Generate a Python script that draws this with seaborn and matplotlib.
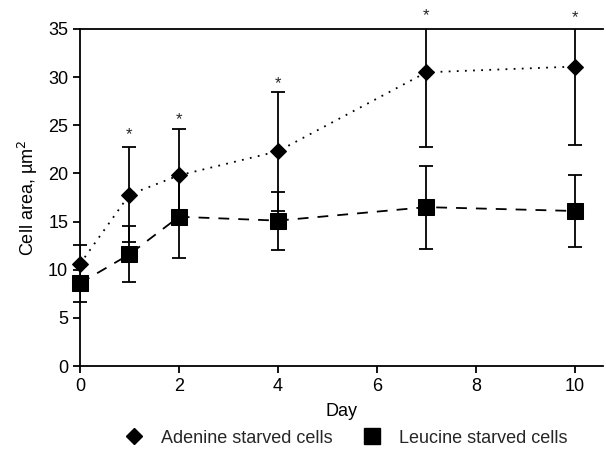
import numpy as np
import pandas as pd
import matplotlib
matplotlib.use("Agg")
import matplotlib.pyplot as plt
from matplotlib.lines import Line2D
import seaborn as sns

days = [0, 1, 2, 4, 7, 10]
adenine_mean = [10.6, 17.8, 19.8, 22.3, 30.5, 31.1]
adenine_err = [2.0, 4.9, 4.8, 6.2, 7.8, 8.1]
leucine_mean = [8.6, 11.6, 15.5, 15.1, 16.5, 16.1]
leucine_err = [2.0, 2.9, 4.3, 3.0, 4.3, 3.7]
star_days = [1, 2, 4, 7, 10]
star_y = [24.0, 25.6, 29.3, 36.4, 36.2]

sns.set_theme(style="ticks")
plt.rcParams["font.family"] = ["Liberation Sans", "DejaVu Sans"]

df = pd.DataFrame({
    "Day": days * 2,
    "Area": adenine_mean + leucine_mean,
    "Group": ["Adenine starved cells"] * len(days) + ["Leucine starved cells"] * len(days),
})

fig = plt.figure(figsize=(6.06, 4.53), dpi=100)
ax = fig.add_axes([0.132, 0.192, 0.863, 0.744])

# error bars first so markers sit on top
for m, e in [(adenine_mean, adenine_err), (leucine_mean, leucine_err)]:
    eb = ax.errorbar(days, m, yerr=e, fmt="none", ecolor="black",
                     elinewidth=1.3, capsize=5, capthick=1.3, zorder=2)
    for c in eb.lines[1]:
        c.set_clip_on(False)

sns.lineplot(data=df[df.Group == "Adenine starved cells"], x="Day", y="Area", ax=ax,
             color="black", marker="D", markersize=8, linewidth=1.3,
             linestyle=(0, (1, 3.5)), markeredgecolor="black", zorder=3, clip_on=False)
sns.lineplot(data=df[df.Group == "Leucine starved cells"], x="Day", y="Area", ax=ax,
             color="black", marker="s", markersize=12, linewidth=1.3,
             linestyle=(0, (6, 5)), markeredgecolor="black", zorder=3, clip_on=False)

for d, y in zip(star_days, star_y):
    ax.text(d, y, "*", ha="center", va="center", fontsize=12, clip_on=False)

ax.set_xlim(0, 10.57)
ax.set_ylim(0, 35)
ax.set_xticks([0, 2, 4, 6, 8, 10])
ax.set_yticks(np.arange(0, 36, 5))
ax.tick_params(axis="both", labelsize=13, length=5, width=1.3, color="black",
               labelcolor="black")
ax.set_xlabel("Day", fontsize=13, color="black", labelpad=6)
ax.set_ylabel("Cell area, µm$^2$", fontsize=13, color="black", labelpad=6)
for side in ["left", "bottom", "top"]:
    ax.spines[side].set_linewidth(1.3)
    ax.spines[side].set_color("black")
ax.spines["right"].set_visible(False)
ax.set_facecolor("white")

handles = [
    Line2D([], [], color="black", marker="D", markersize=8, linestyle="none"),
    Line2D([], [], color="black", marker="s", markersize=11, linestyle="none"),
]
fig.legend(handles, ["Adenine starved cells", "Leucine starved cells"],
           loc="center", bbox_to_anchor=(0.564, 0.033), ncol=2, frameon=False,
           fontsize=13, columnspacing=1.2, handletextpad=0.5)

fig.savefig("out.png", dpi=100, facecolor="white")
